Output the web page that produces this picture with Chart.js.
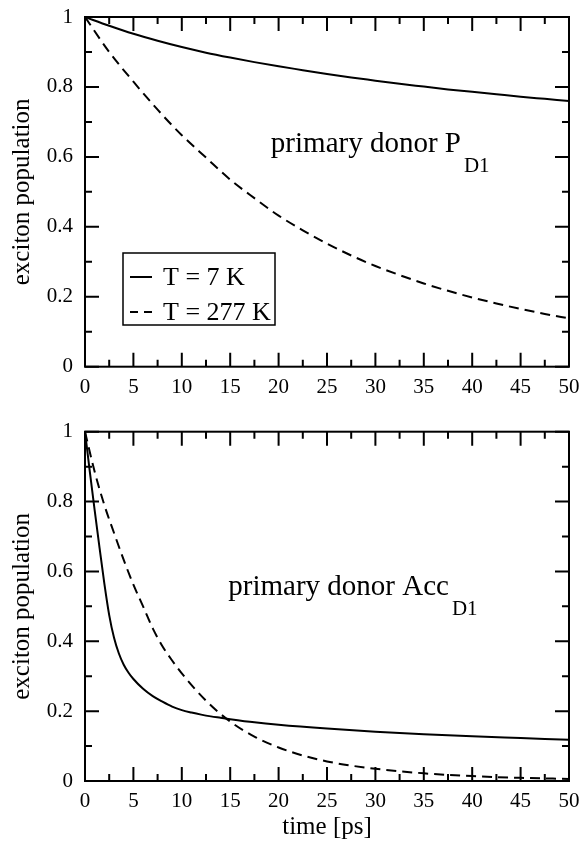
<!DOCTYPE html>
<html>
<head>
<meta charset="utf-8">
<script src="https://cdn.jsdelivr.net/npm/chart.js@4/dist/chart.umd.min.js"></script>
<style>
body { margin: 0; background: #fff; }
.box { position: absolute; left: 0; width: 586px; }
</style>
</head>
<body>
<div class="box" style="top:0;height:410px"><canvas id="top_chart"></canvas></div>
<div class="box" style="top:410px;height:434px"><canvas id="bottom_chart"></canvas></div>
<script>
// top panel: primary donor P_D1
const time_top = [0,2.5,5,7.5,10,12.5,15,17.5,20,22.5,25,27.5,30,32.5,35,37.5,40,42.5,45,47.5,50];
const pd1_7K   = [1,0.975,0.952,0.932,0.914,0.898,0.884,0.871,0.859,0.848,0.837,0.827,0.818,0.809,0.801,0.793,0.786,0.779,0.772,0.766,0.76];
const pd1_277K = [1,0.9,0.815,0.735,0.662,0.598,0.535,0.482,0.432,0.39,0.352,0.318,0.288,0.262,0.238,0.217,0.198,0.181,0.165,0.151,0.138];

// bottom panel: Acc_D1
const time_acc_7K = [0,0.5,1,1.5,2,2.5,3,3.5,4,4.5,5,6,7,8,9,10,11,12,13,14,15,17.5,20,25,30,35,40,45,50];
const acc_7K      = [1,0.885,0.775,0.668,0.565,0.475,0.41,0.365,0.333,0.31,0.292,0.264,0.243,0.227,0.213,0.203,0.196,0.19,0.185,0.181,0.177,0.168,0.161,0.15,0.141,0.134,0.128,0.123,0.118];
const time_acc_277K = [0,1,2,3,4,5,6,7,8,9,10,12.5,15,17.5,20,22.5,25,27.5,30,35,40,45,50];
const acc_277K      = [1,0.885,0.79,0.71,0.633,0.562,0.5,0.437,0.386,0.345,0.308,0.23,0.17,0.127,0.096,0.073,0.056,0.044,0.035,0.022,0.014,0.009,0.006];

const series_labels = ["T = 7 K", "T = 277 K"];
const x_ticks_step = 5, y_ticks_step = 0.2;

const serif = "'Liberation Serif', 'DejaVu Serif', serif";
const dash = [10, 6];

function points(xs, ys){
    return xs.map((x, i) => ({x: x, y: ys[i]}));
}

// frame with inward major + minor ticks on all four sides
const frameTicks = {
    id: 'frameTicks',
    afterDatasetsDraw(chart){
        const ctx = chart.ctx, a = chart.chartArea;
        const xs = chart.scales.x, ys = chart.scales.y;
        ctx.save();
        ctx.strokeStyle = '#000';
        ctx.lineWidth = 2;
        ctx.strokeRect(a.left, a.top, a.right - a.left, a.bottom - a.top);
        ctx.beginPath();
        xs.ticks.forEach(t => {
            const px = xs.getPixelForValue(t.value);
            ctx.moveTo(px, a.bottom); ctx.lineTo(px, a.bottom - 14);
            ctx.moveTo(px, a.top); ctx.lineTo(px, a.top + 14);
            const m = t.value + x_ticks_step / 2;
            if (m < xs.max) {
                const pm = xs.getPixelForValue(m);
                ctx.moveTo(pm, a.bottom); ctx.lineTo(pm, a.bottom - 7);
                ctx.moveTo(pm, a.top); ctx.lineTo(pm, a.top + 7);
            }
        });
        ys.ticks.forEach(t => {
            const py = ys.getPixelForValue(t.value);
            ctx.moveTo(a.left, py); ctx.lineTo(a.left + 14, py);
            ctx.moveTo(a.right, py); ctx.lineTo(a.right - 14, py);
            const m = t.value + y_ticks_step / 2;
            if (m < ys.max) {
                const pm = ys.getPixelForValue(m);
                ctx.moveTo(a.left, pm); ctx.lineTo(a.left + 7, pm);
                ctx.moveTo(a.right, pm); ctx.lineTo(a.right - 7, pm);
            }
        });
        ctx.stroke();
        ctx.restore();
    }
};

// "primary donor X" with subscript, placed in data coordinates
const panelLabel = {
    id: 'panelLabel',
    afterDraw(chart, args, opts){
        if (!opts.main) return;
        const ctx = chart.ctx;
        const px = chart.scales.x.getPixelForValue(opts.x);
        const py = chart.scales.y.getPixelForValue(opts.y);
        ctx.save();
        ctx.fillStyle = '#000';
        ctx.textBaseline = 'alphabetic';
        ctx.textAlign = 'left';
        ctx.font = '29px ' + serif;
        ctx.fillText(opts.main, px, py);
        const w = ctx.measureText(opts.main).width;
        ctx.font = '21px ' + serif;
        ctx.fillText(opts.sub, px + w + 3, py + 20);
        ctx.restore();
    }
};

// boxed legend inside the top panel
const boxLegend = {
    id: 'boxLegend',
    afterDraw(chart, args, opts){
        if (!opts.show) return;
        const ctx = chart.ctx, a = chart.chartArea;
        const left = a.left + opts.dx, top = a.top + opts.dy;
        ctx.save();
        ctx.strokeStyle = '#000';
        ctx.lineWidth = 1.5;
        ctx.strokeRect(left, top, opts.w, opts.h);
        ctx.font = '26px ' + serif;
        ctx.fillStyle = '#000';
        ctx.textBaseline = 'middle';
        chart.data.datasets.forEach((ds, i) => {
            const cy = top + 24 + i * 35;
            ctx.beginPath();
            ctx.lineWidth = 2;
            ctx.setLineDash(ds.borderDash && ds.borderDash.length ? [8, 6] : []);
            ctx.moveTo(left + 7, cy); ctx.lineTo(left + 29, cy);
            ctx.stroke();
            ctx.setLineDash([]);
            ctx.fillText(ds.label, left + 40, cy + 1);
        });
        ctx.restore();
    }
};

function makeChart(id, sets, xTitle, label, legend, xHeight, padTop){
    const tickFont = {family: serif, size: 21};
    const titleFont = {family: serif, size: 25};
    return new Chart(document.getElementById(id).getContext('2d'), {
        type: 'line',
        data: {
            datasets: sets.map(s => ({
                label: s.label,
                data: points(s.x, s.y),
                borderColor: '#000',
                borderWidth: 2,
                borderDash: s.dashed ? dash : [],
                pointRadius: 0,
                fill: false,
                cubicInterpolationMode: 'monotone'
            }))
        },
        options: {
            responsive: true,
            maintainAspectRatio: false,
            animation: false,
            layout: {padding: {top: padTop, right: 17, left: 0, bottom: 0}},
            plugins: {
                legend: {display: false},
                tooltip: {enabled: false},
                panelLabel: label,
                boxLegend: legend
            },
            scales: {
                x: {
                    type: 'linear', min: 0, max: 50,
                    ticks: {stepSize: x_ticks_step, maxRotation: 0, padding: 8, color: '#000', font: tickFont},
                    grid: {display: false, drawTicks: false},
                    border: {display: false},
                    title: {display: !!xTitle, text: xTitle, color: '#000', font: titleFont, padding: {top: 2, bottom: 2}},
                    afterFit(s){ s.height = xHeight; s.paddingLeft = 0; s.paddingRight = 0; }
                },
                y: {
                    min: 0, max: 1,
                    ticks: {stepSize: y_ticks_step, padding: 12, color: '#000', font: tickFont,
                            callback: v => String(+v.toFixed(1))},
                    grid: {display: false, drawTicks: false},
                    border: {display: false},
                    title: {display: true, text: 'exciton population', color: '#000', font: titleFont, padding: {top: 7, bottom: 4}},
                    afterFit(s){ s.width = 85; s.paddingTop = 0; s.paddingBottom = 0; }
                }
            }
        },
        plugins: [frameTicks, panelLabel, boxLegend]
    });
}

makeChart('top_chart', [
    {label: series_labels[0], x: time_top, y: pd1_7K, dashed: false},
    {label: series_labels[1], x: time_top, y: pd1_277K, dashed: true}
], '', {main: 'primary donor P', sub: 'D1', x: 19.2, y: 0.614},
   {show: true, dx: 38, dy: 236, w: 152, h: 72}, 43.3, 17);

makeChart('bottom_chart', [
    {label: series_labels[0], x: time_acc_7K, y: acc_7K, dashed: false},
    {label: series_labels[1], x: time_acc_277K, y: acc_277K, dashed: true}
], 'time [ps]', {main: 'primary donor Acc', sub: 'D1', x: 14.8, y: 0.533},
   {show: false}, 63, 21.7);
</script>
</body>
</html>
